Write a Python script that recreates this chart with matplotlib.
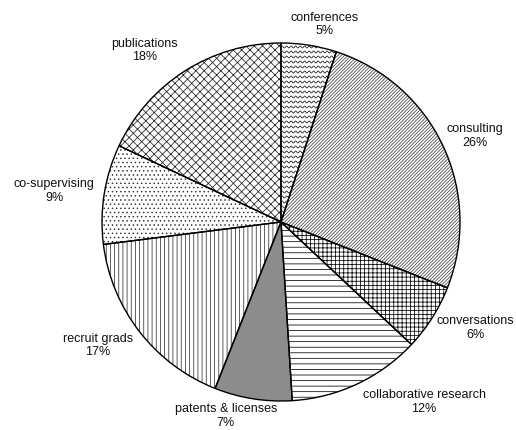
import numpy as np
import matplotlib
matplotlib.use("Agg")
import matplotlib.pyplot as plt
from matplotlib.patches import Wedge

plt.rcParams["font.family"] = ["Liberation Sans", "DejaVu Sans"]
plt.rcParams["hatch.linewidth"] = 0.55

# slices, clockwise from 12 o'clock
labels = ["conferences", "consulting", "conversations", "collaborative research",
          "patents & licenses", "recruit grads", "co-supervising", "publications"]
shares = [5, 26, 6, 12, 7, 17, 9, 18]

# fill style for each slice
hatches = ["", "/" * 10, "++++", "---", "", "||||", "....", "xxxx"]
hatch_colors = ["black", "#444444", "black", "black", "black", "#333333", "#333333", "#222222"]
faces = ["white", "white", "white", "white", "#8c8c8c", "white", "white", "white"]

# label centres (radius units, pie centre at 0,0)
label_pos = [(0.244, 1.103), (1.084, 0.480), (1.088, -0.592), (0.799, -1.006),
             (-0.308, -1.082), (-1.022, -0.690), (-1.268, 0.175), (-0.761, 0.958)]

fig = plt.figure(figsize=(5.16, 4.30), dpi=100)
ax = fig.add_axes([0, 0, 1, 1])

# hatched fills, hatch colour taken from the edge colour
wedges, _ = ax.pie(shares, startangle=90, counterclock=False, radius=1.0,
                   colors=faces, wedgeprops=dict(linewidth=0))
for w, h, hc in zip(wedges, hatches, hatch_colors):
    w.set_hatch(h)
    w.set_edgecolor(hc)
    w.set_linewidth(0)

# wavy pattern for conferences (no built-in hatch for this)
conf = wedges[0]
clip = Wedge(conf.center, conf.r, conf.theta1, conf.theta2, transform=ax.transData)
px = 1 / 179.0
xs = np.linspace(-0.05, 0.4, 400)
for y0 in np.arange(0.0, 1.05, 5 * px):
    ln, = ax.plot(xs, y0 + 1.0 * px * np.sin(2 * np.pi * xs / (4.5 * px)),
                  color="black", lw=0.5)
    ln.set_clip_path(clip)

# black outlines on top
outl, _ = ax.pie(shares, startangle=90, counterclock=False, radius=1.0,
                 wedgeprops=dict(fill=False, edgecolor="black", linewidth=1.0))

for lab, s, (lx, ly) in zip(labels, shares, label_pos):
    ax.text(lx, ly, f"{lab}\n{s}%", ha="center", va="center",
            fontsize=9, linespacing=1.2, color="#111111")

ax.set_xlim(-281 / 179, (516 - 281) / 179)
ax.set_ylim(-(430 - 222) / 179, 222 / 179)
ax.set_aspect("equal")
ax.axis("off")

fig.savefig("out.png", dpi=100)
